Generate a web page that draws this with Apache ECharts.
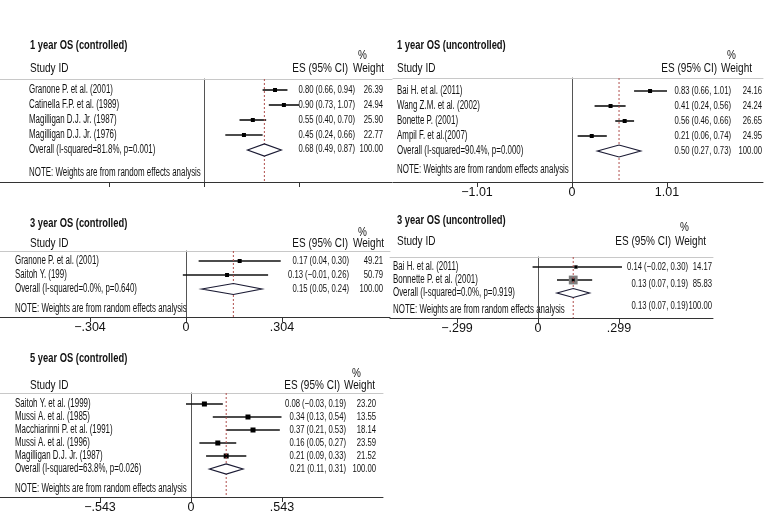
<!DOCTYPE html>
<html><head><meta charset="utf-8">
<script src="https://cdn.jsdelivr.net/npm/echarts@6/dist/echarts.min.js"></script>
<style>html,body{margin:0;padding:0;background:#fff}#c{width:780px;height:528px}</style>
</head><body><div id="c"></div>
<script>
// ================= DATA =================
// Panel A: 1 year OS (controlled)
const aTitle = '1 year OS (controlled)';
const aStudies = ['Granone P. et al. (2001)', 'Catinella F.P. et al. (1989)', 'Magilligan D.J. Jr. (1987)', 'Magilligan D.J. Jr. (1976)'];
const aES = [0.80, 0.90, 0.55, 0.45];
const aLo = [0.66, 0.73, 0.40, 0.24];
const aHi = [0.94, 1.07, 0.70, 0.66];
const aWeights = [26.39, 24.94, 25.90, 22.77];
const aESText = ['0.80 (0.66, 0.94)', '0.90 (0.73, 1.07)', '0.55 (0.40, 0.70)', '0.45 (0.24, 0.66)'];
const aWeightText = ['26.39', '24.94', '25.90', '22.77'];
const aOverall = [0.68, 0.49, 0.87];
const aOverallText = ['Overall (I-squared=81.8%, p=0.001)', '0.68 (0.49, 0.87)', '100.00'];
const aTicks = [-1.07, 0, 1.07];
const aTickLabels = ['', '', ''];

// Panel B: 1 year OS (uncontrolled)
const bTitle = '1 year OS (uncontrolled)';
const bStudies = ['Bai H. et al. (2011)', 'Wang Z.M. et al. (2002)', 'Bonette P. (2001)', 'Ampil F. et al.(2007)'];
const bES = [0.83, 0.41, 0.56, 0.21];
const bLo = [0.66, 0.24, 0.46, 0.06];
const bHi = [1.01, 0.57, 0.66, 0.37];
const bWeights = [24.16, 24.24, 26.65, 24.95];
const bESText = ['0.83 (0.66, 1.01)', '0.41 (0.24, 0.56)', '0.56 (0.46, 0.66)', '0.21 (0.06, 0.74)'];
const bWeightText = ['24.16', '24.24', '26.65', '24.95'];
const bOverall = [0.50, 0.27, 0.73];
const bOverallText = ['Overall (I-squared=90.4%, p=0.000)', '0.50 (0.27, 0.73)', '100.00'];
const bTicks = [-1.01, 0, 1.01];
const bTickLabels = ['\u22121.01', '0', '1.01'];

// Panel C: 3 year OS (controlled)
const cTitle = '3 year OS (controlled)';
const cStudies = ['Granone P. et al. (2001)', 'Saitoh Y. (199)'];
const cES = [0.17, 0.13];
const cLo = [0.04, -0.01];
const cHi = [0.30, 0.26];
const cWeights = [49.21, 50.79];
const cESText = ['0.17 (0.04, 0.30)', '0.13 (\u22120.01, 0.26)'];
const cWeightText = ['49.21', '50.79'];
const cOverall = [0.15, 0.05, 0.24];
const cOverallText = ['Overall (I-squared=0.0%, p=0.640)', '0.15 (0.05, 0.24)', '100.00'];
const cTicks = [-0.304, 0, 0.304];
const cTickLabels = ['\u2212.304', '0', '.304'];

// Panel D: 3 year OS (uncontrolled)
const dTitle = '3 year OS (uncontrolled)';
const dStudies = ['Bai H. et al. (2011)', 'Bonnette P. et al. (2001)'];
const dES = [0.14, 0.13];
const dLo = [-0.02, 0.07];
const dHi = [0.31, 0.20];
const dWeights = [14.17, 85.83];
const dESText = ['0.14 (\u22120.02, 0.30)', '0.13 (0.07, 0.19)'];
const dWeightText = ['14.17', '85.83'];
const dOverall = [0.13, 0.07, 0.19];
const dOverallText = ['Overall (I-squared=0.0%, p=0.919)', '0.13 (0.07, 0.19)', '100.00'];
const dTicks = [-0.299, 0, 0.299];
const dTickLabels = ['\u2212.299', '0', '.299'];

// Panel E: 5 year OS (controlled)
const eTitle = '5 year OS (controlled)';
const eStudies = ['Saitoh Y. et al. (1999)', 'Mussi A. et al. (1985)', 'Macchiarinni P. et al. (1991)', 'Mussi A. et al. (1996)', 'Magilligan D.J. Jr. (1987)'];
const eES = [0.08, 0.34, 0.37, 0.16, 0.21];
const eLo = [-0.03, 0.13, 0.21, 0.05, 0.09];
const eHi = [0.19, 0.54, 0.53, 0.27, 0.33];
const eWeights = [23.20, 13.55, 18.14, 23.59, 21.52];
const eESText = ['0.08 (\u22120.03, 0.19)', '0.34 (0.13, 0.54)', '0.37 (0.21, 0.53)', '0.16 (0.05, 0.27)', '0.21 (0.09, 0.33)'];
const eWeightText = ['23.20', '13.55', '18.14', '23.59', '21.52'];
const eOverall = [0.21, 0.11, 0.31];
const eOverallText = ['Overall (I-squared=63.8%, p=0.026)', '0.21 (0.11, 0.31)', '100.00'];
const eTicks = [-0.543, 0, 0.543];
const eTickLabels = ['\u2212.543', '0', '.543'];

const noteText = 'NOTE: Weights are from random effects analysis';
const hdrStudy = 'Study ID', hdrES = 'ES (95% CI)', hdrW = 'Weight', hdrPct = '%';

// ================= LAYOUT / STYLE =================
const FF = '"Liberation Sans", Arial, sans-serif';
const TXT = '#111';
const panels = [
  { title: aTitle, studies: aStudies, es: aES, lo: aLo, hi: aHi, w: aWeights, esText: aESText, wText: aWeightText, overall: aOverall, overallText: aOverallText, ticks: aTicks, tickLabels: aTickLabels,
    L: { left: 0, right: 392, top: 79, bottom: 182, zeroX: 204, tickPx: 299, rowY0: 90, dy: 15, labelX: 29, esRight: 355, wRight: 383, noteY: 173,
         titleXY: [30, 45], pctXY: [358, 55], sidY: 68, sidX: 30, esHdrRight: 348, wHdrX: 353, textDy: [0, 0, 0, 0], overallTextDy: -1, boxK: 0, dot: 4, dh: 6 } },
  { title: bTitle, studies: bStudies, es: bES, lo: bLo, hi: bHi, w: bWeights, esText: bESText, wText: bWeightText, overall: bOverall, overallText: bOverallText, ticks: bTicks, tickLabels: bTickLabels,
    L: { left: 393, right: 763, top: 78, bottom: 182, zeroX: 572, tickPx: 667, rowY0: 91, dy: 15, labelX: 397, esRight: 731, wRight: 762, noteY: 170,
         titleXY: [397, 45], pctXY: [727, 55], sidY: 68, sidX: 397, esHdrRight: 717, wHdrX: 721, textDy: [0, 0, 0, 0], overallTextDy: 0, boxK: 0, dot: 4, dh: 6 } },
  { title: cTitle, studies: cStudies, es: cES, lo: cLo, hi: cHi, w: cWeights, esText: cESText, wText: cWeightText, overall: cOverall, overallText: cOverallText, ticks: cTicks, tickLabels: cTickLabels,
    L: { left: 0, right: 390, top: 251, bottom: 317, zeroX: 186, tickPx: 282, rowY0: 261, dy: 14, labelX: 15, esRight: 349, wRight: 383, noteY: 309,
         titleXY: [30, 223], pctXY: [358, 232], sidY: 243, sidX: 30, esHdrRight: 348, wHdrX: 353, textDy: [0, 0], overallTextDy: 0, boxK: 0, dot: 4, dh: 5.5 } },
  { title: dTitle, studies: dStudies, es: dES, lo: dLo, hi: dHi, w: dWeights, esText: dESText, wText: dWeightText, overall: dOverall, overallText: dOverallText, ticks: dTicks, tickLabels: dTickLabels,
    L: { left: 390, right: 713, top: 257, bottom: 318, zeroX: 538, tickPx: 619, rowY0: 267, dy: 13, labelX: 393, esRight: 688, wRight: 712, noteY: 310,
         titleXY: [397, 220], pctXY: [680, 227], sidY: 241, sidX: 397, esHdrRight: 671, wHdrX: 675, textDy: [0, 4], overallTextDy: 13, boxK: 0.95, dot: 3, dh: 4.5 } },
  { title: eTitle, studies: eStudies, es: eES, lo: eLo, hi: eHi, w: eWeights, esText: eESText, wText: eWeightText, overall: eOverall, overallText: eOverallText, ticks: eTicks, tickLabels: eTickLabels,
    L: { left: 0, right: 383, top: 393, bottom: 497, zeroX: 191, tickPx: 282, rowY0: 404, dy: 13, labelX: 15, esRight: 346, wRight: 376, noteY: 489,
         titleXY: [30, 358], pctXY: [352, 373], sidY: 385, sidX: 30, esHdrRight: 340, wHdrX: 344, textDy: [0, 0, 0, 0, 0], overallTextDy: 0, boxK: 0, dot: 5, dh: 5 } }
];

const LBL_FONT = '12px ' + FF, LBL_SX = 0.66;
const NUM_FONT = '11.5px ' + FF, NUM_SX = 0.67;
const HDR_FONT = '13px ' + FF, HDR_SX = 0.77;
const TTL_FONT = 'bold 13px ' + FF, TTL_SX = 0.72;

function txt(x, y, text, font, sx, align) {
  return { type: 'text', x: x, y: y, scaleX: sx, scaleY: 1, silent: true,
    style: { text: text, font: font, fill: TXT, textAlign: align, align: align, textVerticalAlign: 'middle', verticalAlign: 'middle' } };
}

const grid = [], xAxis = [], yAxis = [], series = [], graphic = [];

panels.forEach(function (P, k) {
  const L = P.L;
  const S = (L.tickPx - L.zeroX) / P.ticks[2];
  const xmin = (L.left - L.zeroX) / S, xmax = (L.right - L.zeroX) / S;
  const ymin = (L.top - L.rowY0) / L.dy, ymax = (L.bottom - L.rowY0) / L.dy;
  const n = P.es.length;
  grid.push({ left: L.left, top: L.top, width: L.right - L.left, height: L.bottom - L.top, outerBoundsMode: 'none', containLabel: false });
  const labelFor = function (v) {
    for (let i = 0; i < P.ticks.length; i++) if (Math.abs(P.ticks[i] - v) < 1e-6) return P.tickLabels[i];
    return '';
  };
  xAxis.push({ gridIndex: k, type: 'value', position: 'bottom', min: xmin, max: xmax,
    axisLine: { show: true, onZero: false, lineStyle: { color: '#333', width: 1 } },
    axisTick: { show: true, customValues: P.ticks, length: 5, inside: false, lineStyle: { color: '#333' } },
    axisLabel: { show: true, customValues: P.ticks, formatter: labelFor, margin: 4, fontSize: 12.5,
      fontFamily: '"Liberation Sans Narrow", "Liberation Sans", sans-serif', color: TXT, hideOverlap: false },
    splitLine: { show: false } });
  xAxis.push({ gridIndex: k, type: 'value', position: 'top', min: xmin, max: xmax,
    axisLine: { show: true, onZero: false, lineStyle: { color: '#c8c8c8', width: 1 } },
    axisTick: { show: false }, axisLabel: { show: false }, splitLine: { show: false } });
  yAxis.push({ gridIndex: k, type: 'value', inverse: true, min: ymin, max: ymax,
    axisLine: { show: true, onZero: true, lineStyle: { color: '#555', width: 1 } },
    axisTick: { show: false }, axisLabel: { show: false }, splitLine: { show: false } });

  const rows = P.es.map(function (v, i) { return [P.lo[i], P.hi[i], v, i]; });
  rows.push([P.overall[1], P.overall[2], P.overall[0], n]);

  series.push({
    type: 'custom', coordinateSystem: 'cartesian2d', xAxisIndex: 2 * k, yAxisIndex: k,
    clip: false, silent: true, animation: false, data: rows,
    encode: { x: [0, 1, 2], y: 3 },
    renderItem: function (params, api) {
      const i = params.dataIndex;
      const lo = api.value(0), hi = api.value(1), es = api.value(2), r = api.value(3);
      const pLo = api.coord([lo, r]), pHi = api.coord([hi, r]), pEs = api.coord([es, r]);
      const y = pEs[1];
      const ch = [];
      if (i < n) {
        ch.push({ type: 'line', shape: { x1: pLo[0], y1: y, x2: pHi[0], y2: y }, style: { stroke: '#111', lineWidth: 1.6 } });
        if (L.boxK > 0) {
          const s = L.boxK * Math.sqrt(P.w[i]);
          ch.push({ type: 'rect', shape: { x: pEs[0] - s / 2, y: y - s / 2, width: s, height: s }, style: { fill: '#7d7d7d' } });
        }
        ch.push({ type: 'rect', shape: { x: pEs[0] - L.dot / 2, y: y - L.dot / 2, width: L.dot, height: L.dot }, style: { fill: '#000' } });
        ch.push(txt(L.labelX, y, P.studies[i], LBL_FONT, LBL_SX, 'left'));
        ch.push(txt(L.esRight, y + L.textDy[i], P.esText[i], NUM_FONT, NUM_SX, 'right'));
        ch.push(txt(L.wRight, y + L.textDy[i], P.wText[i], NUM_FONT, NUM_SX, 'right'));
      } else {
        const top = api.coord([es, ymin]), bot = api.coord([es, ymax]);
        ch.push({ type: 'line', shape: { x1: pEs[0], y1: top[1], x2: pEs[0], y2: bot[1] }, style: { stroke: '#b0504e', lineWidth: 1, lineDash: [2, 2] } });
        ch.push({ type: 'polygon', shape: { points: [[pLo[0], y], [pEs[0], y - L.dh], [pHi[0], y], [pEs[0], y + L.dh]] },
          style: { fill: '#fff', stroke: '#1a1a33', lineWidth: 1.2 } });
        ch.push(txt(L.labelX, y, P.overallText[0], LBL_FONT, LBL_SX, 'left'));
        ch.push(txt(L.esRight, y + L.overallTextDy, P.overallText[1], NUM_FONT, NUM_SX, 'right'));
        ch.push(txt(L.wRight, y + L.overallTextDy, P.overallText[2], NUM_FONT, NUM_SX, 'right'));
      }
      return { type: 'group', children: ch };
    }
  });

  graphic.push(txt(L.titleXY[0], L.titleXY[1], P.title, TTL_FONT, TTL_SX, 'left'));
  graphic.push(txt(L.pctXY[0], L.pctXY[1], hdrPct, HDR_FONT, HDR_SX, 'left'));
  graphic.push(txt(L.sidX, L.sidY, hdrStudy, HDR_FONT, HDR_SX, 'left'));
  graphic.push(txt(L.esHdrRight, L.sidY, hdrES, HDR_FONT, HDR_SX, 'right'));
  graphic.push(txt(L.wHdrX, L.sidY, hdrW, HDR_FONT, HDR_SX, 'left'));
  graphic.push(txt(L.labelX, L.noteY, noteText, LBL_FONT, LBL_SX, 'left'));
});

const chart = echarts.init(document.getElementById('c'), null, { renderer: 'canvas' });
chart.setOption({
  backgroundColor: '#fff',
  animation: false,
  grid: grid, xAxis: xAxis, yAxis: yAxis, series: series,
  graphic: { elements: graphic }
});
</script>
</body></html>
